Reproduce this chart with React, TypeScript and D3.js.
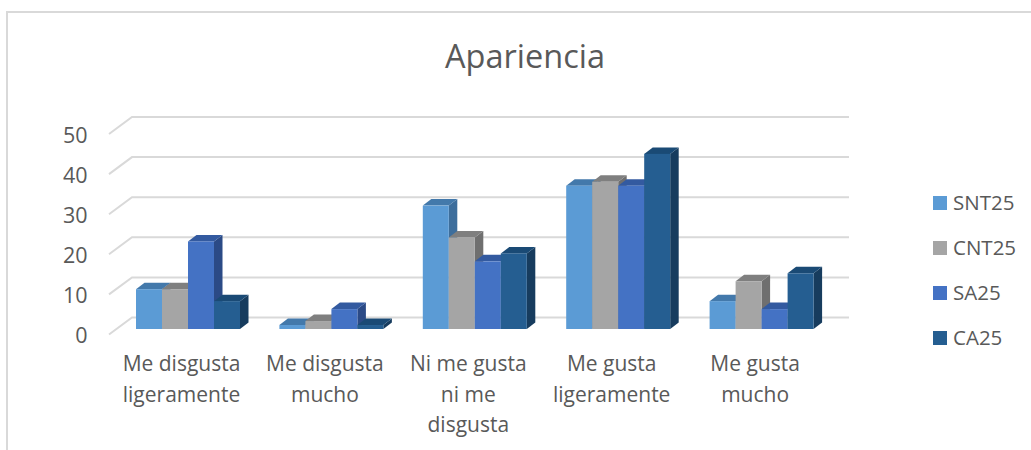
import React from "react";
import * as d3 from "d3";

const categories = [
  ["Me disgusta", "ligeramente"],
  ["Me disgusta", "mucho"],
  ["Ni me gusta", "ni me", "disgusta"],
  ["Me gusta", "ligeramente"],
  ["Me gusta", "mucho"],
];
const seriesNames = ["SNT25", "CNT25", "SA25", "CA25"];
const SNT25 = [10, 1, 31, 36, 7];
const CNT25 = [10, 2, 23, 37, 12];
const SA25 = [22, 5, 17, 36, 5];
const CA25 = [7, 1, 19, 44, 14];
const seriesValues = [SNT25, CNT25, SA25, CA25];
const front = ["#5b9bd5", "#a5a5a5", "#4472c4", "#255e91"];
const top = ["#4379ab", "#7f7f7f", "#335aa0", "#1a4a75"];
const side = ["#3d6e9c", "#6f6f6f", "#2b4a86", "#173c5e"];
const ticks = [0, 10, 20, 30, 40, 50];

const FONT = "'Open Sans', sans-serif";
const TEXT = "#595959";
const GRID = "#d9d9d9";
const DX = 8.5;
const DY = -6.5;

export default function App() {
  const y = d3.scaleLinear().domain([0, 50]).range([329, 130]);
  const x0 = d3.scaleBand<number>().domain(d3.range(5)).range([116.3, 833.3]).paddingInner(0).paddingOuter(0);
  const x1 = d3.scaleBand<number>().domain(d3.range(4)).range([19.7, 123.7]);
  const gy = d3.scaleLinear().domain([0, 50]).range([334.5, 134]);

  return (
    <svg width={1031} height={450} style={{ position: "fixed", left: 0, top: 0, background: "#fff" }}>
      <path d="M7,450V12H1031" fill="none" stroke={GRID} strokeWidth={2} />
      <text x={525} y={68} textAnchor="middle" fontFamily={FONT} fontSize={32.5} fill={TEXT}>Apariencia</text>
      {ticks.map((t) => (
        <g key={t}>
          <path d={`M109,${gy(t)}L132,${gy(t) - 17}H849`} fill="none" stroke={GRID} strokeWidth={2} />
          <text x={87.5} y={gy(t) + 8.5} textAnchor="end" fontFamily={FONT} fontSize={21.5} fill={TEXT}>{t}</text>
        </g>
      ))}
      {categories.map((lines, c) => (
        <g key={c}>
          {seriesValues.map((vals, s) => {
            const bx = x0(c)! + x1(s)!;
            const w = x1.bandwidth();
            const by = y(vals[c]);
            const b0 = y(0);
            return (
              <g key={s}>
                <path d={`M${bx + w},${by}l${DX},${DY}V${b0 + DY}l${-DX},${-DY}Z`} fill={side[s]} />
                <path d={`M${bx},${by}l${DX},${DY}h${w}l${-DX},${-DY}Z`} fill={top[s]} />
                <rect x={bx} y={by} width={w} height={b0 - by} fill={front[s]} />
              </g>
            );
          })}
          {lines.map((l, i) => (
            <text key={i} x={x0(c)! + x0.bandwidth() / 2 - 6.5} y={371 + i * 30.5} textAnchor="middle" fontFamily={FONT} fontSize={21} fill={TEXT}>{l}</text>
          ))}
        </g>
      ))}
      {seriesNames.map((n, i) => (
        <g key={n}>
          <rect x={933} y={196 + i * 45} width={14} height={14} fill={front[i]} />
          <text x={953} y={210 + i * 45} fontFamily={FONT} fontSize={20.5} fill={TEXT}>{n}</text>
        </g>
      ))}
    </svg>
  );
}
